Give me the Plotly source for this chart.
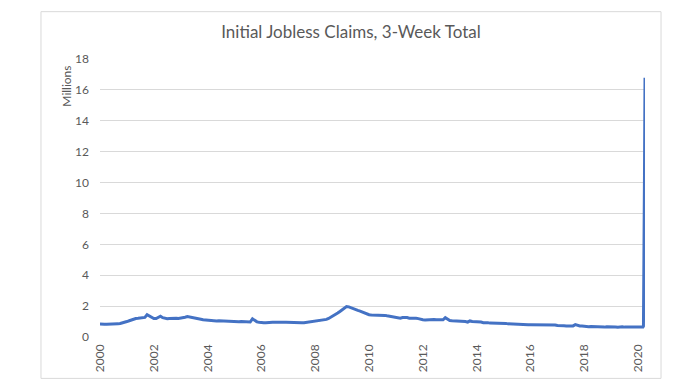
import pandas as pd
import plotly.graph_objects as go

# Monthly 3-week totals of initial jobless claims (millions)
v2000 = [0.84, 0.85, 0.83, 0.82, 0.82, 0.84, 0.86, 0.85, 0.85, 0.87, 0.93, 0.97]
v2001 = [1.00, 1.05, 1.10, 1.15, 1.20, 1.21, 1.22, 1.22, 1.27, 1.44, 1.35, 1.25]
v2002 = [1.20, 1.20, 1.25, 1.35, 1.25, 1.20, 1.18, 1.20, 1.22, 1.22, 1.22, 1.20]
v2003 = [1.22, 1.23, 1.28, 1.32, 1.30, 1.28, 1.25, 1.22, 1.18, 1.15, 1.12, 1.10]
v2004 = [1.08, 1.07, 1.06, 1.05, 1.04, 1.05, 1.04, 1.04, 1.03, 1.02, 1.02, 1.03]
v2005 = [1.00, 0.99, 0.99, 1.00, 0.99, 0.98, 0.97, 0.97, 1.18, 1.08, 0.98, 0.95]
v2006 = [0.92, 0.92, 0.92, 0.94, 0.93, 0.95, 0.95, 0.94, 0.94, 0.94, 0.95, 0.96]
v2007 = [0.95, 0.98, 0.95, 0.94, 0.93, 0.93, 0.92, 0.93, 0.95, 0.96, 0.98, 1.00]
v2008 = [1.00, 1.04, 1.08, 1.10, 1.11, 1.14, 1.20, 1.28, 1.38, 1.43, 1.55, 1.65]
v2009 = [1.75, 1.87, 1.97, 1.95, 1.88, 1.82, 1.76, 1.72, 1.68, 1.62, 1.55, 1.47]
v2010 = [1.44, 1.42, 1.42, 1.38, 1.38, 1.39, 1.39, 1.40, 1.37, 1.34, 1.32, 1.28]
v2011 = [1.27, 1.24, 1.22, 1.26, 1.28, 1.26, 1.22, 1.22, 1.24, 1.21, 1.19, 1.14]
v2012 = [1.12, 1.10, 1.11, 1.14, 1.13, 1.14, 1.12, 1.11, 1.10, 1.11, 1.25, 1.14]
v2013 = [1.07, 1.05, 1.04, 1.06, 1.05, 1.05, 1.03, 1.00, 0.96, 1.04, 1.00, 1.00]
v2014 = [1.00, 1.00, 0.97, 0.93, 0.94, 0.93, 0.90, 0.90, 0.88, 0.86, 0.88, 0.88]
v2015 = [0.87, 0.88, 0.85, 0.84, 0.83, 0.83, 0.82, 0.82, 0.80, 0.80, 0.81, 0.80]
v2016 = [0.80, 0.80, 0.79, 0.77, 0.80, 0.80, 0.78, 0.79, 0.76, 0.77, 0.76, 0.78]
v2017 = [0.74, 0.72, 0.73, 0.73, 0.72, 0.72, 0.73, 0.72, 0.80, 0.73, 0.71, 0.71]
v2018 = [0.68, 0.67, 0.67, 0.68, 0.67, 0.66, 0.65, 0.64, 0.63, 0.64, 0.66, 0.66]
v2019 = [0.66, 0.68, 0.65, 0.63, 0.65, 0.66, 0.64, 0.64, 0.64, 0.65, 0.66, 0.67]
v2020_months = [0.65, 0.64]

# Weekly tail (week ending dates) for the COVID spike
tail_dates = ["2020-03-07", "2020-03-14", "2020-03-21", "2020-03-28", "2020-04-04"]
tail_values = [0.64, 0.70, 3.80, 10.46, 16.78]

tick_years = ["2000", "2002", "2004", "2006", "2008", "2010",
              "2012", "2014", "2016", "2018", "2020"]
y_ticks = [0, 2, 4, 6, 8, 10, 12, 14, 16, 18]

monthly = (v2000 + v2001 + v2002 + v2003 + v2004 + v2005 + v2006 + v2007 +
           v2008 + v2009 + v2010 + v2011 + v2012 + v2013 + v2014 + v2015 +
           v2016 + v2017 + v2018 + v2019 + v2020_months)
monthly_dates = pd.date_range("2000-01-01", periods=len(monthly), freq="MS")

x = list(monthly_dates.strftime("%Y-%m-%d")) + tail_dates
y = monthly + tail_values

TXT = "#595959"
GRID = "#d9d9d9"
FONT = "Lato, 'Open Sans', sans-serif"

W, H = 681, 376  # page body has an 8px margin

fig = go.Figure()
fig.add_trace(go.Scatter(x=x, y=y, mode="lines",
                         line=dict(color="#4472C4", width=3),
                         hoverinfo="x+y", showlegend=False))

fig.update_layout(
    width=W, height=H,
    margin=dict(l=92, r=44, t=51, b=43),
    paper_bgcolor="white", plot_bgcolor="white",
    font=dict(family=FONT, color=TXT, size=12),
    title=dict(text="Initial Jobless Claims, 3-Week Total",
               font=dict(family=FONT, size=17, color=TXT),
               x=343 / W, xref="container", xanchor="center",
               y=1 - 24 / H, yref="container", yanchor="middle"),
    xaxis=dict(type="date", range=["2000-01-01", "2020-04-04"],
               tickmode="array",
               tickvals=[f"{t}-01-01" for t in tick_years],
               ticktext=tick_years, tickangle=-90,
               showgrid=False, zeroline=False, showline=False,
               ticks="", ticklabelstandoff=4,
               tickfont=dict(size=12, color=TXT)),
    yaxis=dict(range=[0, 18], tickvals=y_ticks,
               showgrid=True, gridcolor=GRID, gridwidth=1,
               zeroline=False, showline=False, ticks="",
               ticklabelstandoff=10,
               tickfont=dict(size=12, color=TXT)),
    shapes=[dict(type="rect", xref="paper", yref="paper",
                 x0=-0.1083, x1=1.0294, y0=-0.1489, y1=1.1702,
                 line=dict(color=GRID, width=1), layer="below")],
    annotations=[dict(text="Millions", xref="paper", yref="paper",
                      x=-0.0606, y=0.904, textangle=-90, showarrow=False,
                      xanchor="center", yanchor="middle",
                      font=dict(size=12, color=TXT, family=FONT))],
)

fig.write_html("out.html")
